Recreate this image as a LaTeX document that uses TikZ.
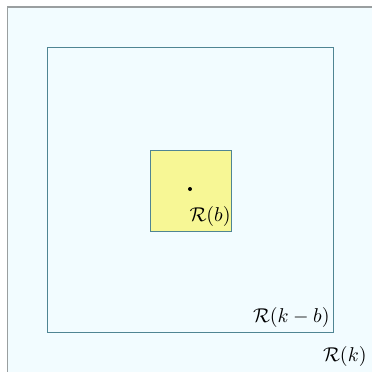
\documentclass[tikz,border=0pt]{standalone}
\usepackage{amsmath}
\usepackage{amssymb}
\usepackage{tikz}
\usetikzlibrary{positioning}

\definecolor{regfill}{HTML}{F2FCFF}
\definecolor{regline}{HTML}{4F8593}
\definecolor{outline}{HTML}{9A9FA0}
\definecolor{ballfill}{HTML}{F7F795}

\begin{document}
\begin{tikzpicture}[
    x=0.5pt, y=-0.5pt,
    outerbox/.style={draw=outline, fill=regfill, line width=0.6pt},
    innerbox/.style={draw=regline, line width=0.5pt},
    ballbox/.style={draw=regline, fill=ballfill, line width=0.5pt},
    reglabel/.style={anchor=south east, inner sep=1pt, font=\normalsize}
  ]

  \useasboundingbox (0,0) rectangle (372,372);
  \clip (0,0) rectangle (372,372);

  % Regions
  \draw[outerbox] (7.5,7) rectangle (390,390);
  \draw[innerbox] (48,47) rectangle (334,332);
  \draw[ballbox] (151,150) rectangle (232,231);
  \fill (190,189) circle (1pt);

  % Labels
  \node[reglabel] (rb) at (233,229) {$\mathcal{R}(b)$};
  \node[reglabel] (rkb) at (332,330) {$\mathcal{R}(k-b)$};
  \node[reglabel] (rk) at (369,369) {$\mathcal{R}(k)$};

\end{tikzpicture}
\end{document}
